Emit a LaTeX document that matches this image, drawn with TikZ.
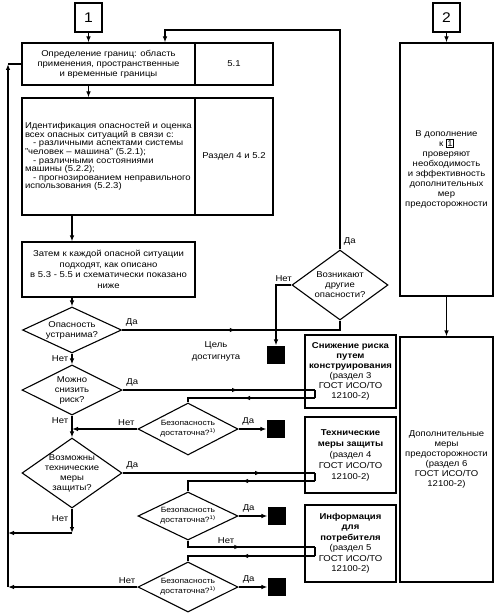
\documentclass[tikz,border=0pt]{standalone}
\usepackage{fontspec}
\setmainfont{Liberation Sans}[FakeStretch=1.12]
\usetikzlibrary{shapes.geometric,decorations.markings,arrows.meta}
\newcommand{\refbox}[1]{{\setlength{\fboxsep}{0.8pt}\setlength{\fboxrule}{0.6pt}\fbox{#1}}}
\begin{document}
\begin{tikzpicture}[x=1pt,y=-1pt,>={Latex[length=6pt,width=4.5pt]},line width=1.1pt,font=\fontsize{8.5}{10}\selectfont,
  marrow/.style={decoration={markings,mark=at position #1 with {\arrow{>}}},postaction={decorate}}]
% boxes, decisions and end marks
\tikzstyle{box} = [rectangle, draw=black, inner sep=2pt, align=center]
\tikzstyle{start} = [rectangle, draw=black, minimum width=27pt, minimum height=29pt, font=\fontsize{14}{14}\selectfont]
\tikzstyle{decision} = [diamond, draw=black, inner sep=0pt]
\tikzstyle{stopbox} = [rectangle, fill=black, minimum size=18pt, inner sep=0pt]
\useasboundingbox (0,0) rectangle (499,615);
\node (n1) [start] at (88.5,17.5) {1};
\node (lim) [box, minimum width=173pt, minimum height=42pt] at (108.5,64) {Определение границ: область\\применения, пространственные\\и временные границы};
\node (lim51) [box, minimum width=78pt, minimum height=42pt] at (234,64) {5.1};
\node (ident) [box, minimum width=173pt, minimum height=117pt, text width=167pt, align=left, font=\fontsize{8.5}{8.6}\selectfont] at (108.5,156.5) {Идентификация опасностей и оценка\\
всех опасных ситуаций в связи с:\\
\hspace*{8pt}- различными аспектами системы\\
"человек – машина" (5.2.1);\\
\hspace*{8pt}- различными состояниями\\
машины (5.2.2);\\
\hspace*{8pt}- прогнозированием неправильного\\
использования (5.2.3)};
\node (ident52) [box, minimum width=78pt, minimum height=117pt] at (234,156.5) {Раздел 4 и 5.2};
\node (appr) [box, minimum width=173pt, minimum height=55pt, font=\fontsize{8.5}{10.5}\selectfont] at (108.5,269.5) {Затем к каждой опасной ситуации\\подходят, как описано\\в 5.3 - 5.5 и схематически показано\\ниже};
\node (d1) [decision, minimum width=99pt, minimum height=46pt, label={[align=center]center:{Опасность\\устранима?}}] at (72,330) {};
\node (d2) [decision, minimum width=100pt, minimum height=50pt, label={[align=center]center:{Можно\\снизить\\риск?}}] at (72,390) {};
\node (d4) [decision, minimum width=100pt, minimum height=70pt, label={[align=center]center:{Возможны\\технические\\меры\\защиты?}}] at (72,473) {};
\node (s1) [decision, minimum width=100pt, minimum height=52pt, label={[align=center,font=\fontsize{7.6}{9.8}\selectfont]center:{Безопасность\\достаточна?\textsuperscript{1)}}}] at (188,429) {};
\node (s2) [decision, minimum width=100pt, minimum height=48pt, label={[align=center,font=\fontsize{7.6}{9.8}\selectfont]center:{Безопасность\\достаточна?\textsuperscript{1)}}}] at (188,516) {};
\node (s3) [decision, minimum width=100pt, minimum height=50pt, label={[align=center,font=\fontsize{7.6}{9.8}\selectfont]center:{Безопасность\\достаточна?\textsuperscript{1)}}}] at (188,587) {};
\node (other) [decision, minimum width=96pt, minimum height=70pt, label={[align=center]center:{Возникают\\другие\\опасности?}}] at (340,285) {};
\node (goal) [align=center, font=\fontsize{8.5}{12}\selectfont] at (216,351) {Цель\\достигнута};
\node (g1) [stopbox] at (276,355) {};
\node (g2) [stopbox] at (276,429) {};
\node (g3) [stopbox] at (277,516) {};
\node (g4) [stopbox] at (277,587) {};
\node (red1) [box, minimum width=91pt, minimum height=73pt] at (350.5,371.5) {\textbf{Снижение риска}\\\textbf{путем}\\\textbf{конструирования}\\(раздел 3\\ГОСТ ИСО/ТО\\12100-2)};
\node (red2) [box, minimum width=91pt, minimum height=76pt, font=\fontsize{8.5}{11}\selectfont] at (350.5,455) {\textbf{Технические}\\\textbf{меры защиты}\\(раздел 4\\ГОСТ ИСО/ТО\\12100-2)};
\node (red3) [box, minimum width=91pt, minimum height=77pt, font=\fontsize{8.5}{10.5}\selectfont] at (350.5,543.5) {\textbf{Информация}\\\textbf{для}\\\textbf{потребителя}\\(раздел 5\\ГОСТ ИСО/ТО\\12100-2)};
\node (n2) [start] at (446.5,17.5) {2};
\node (add1) [box, minimum width=93pt, minimum height=253pt] at (446.5,169.5) {В дополнение\\к \refbox{1}\\проверяют\\необходимость\\и эффективность\\дополнительных\\мер\\предосторожности};
\node (add2) [box, minimum width=93pt, minimum height=245pt] at (446.5,459.5) {Дополнительные\\меры\\предосторожности\\(раздел 6\\ГОСТ ИСО/ТО\\12100-2)};
% turning points
\coordinate (top) at (165,30);
\coordinate (rail) at (8,587);
\coordinate (c4) at (72,533);
\coordinate (in1) at (315,390); \coordinate (out1) at (315,398);
\coordinate (in2) at (315,473); \coordinate (out2) at (315,481);
\coordinate (in3) at (315,547); \coordinate (out3) at (315,556);
% main line
\draw [->] (n1.south) -- (n1.south |- lim.north);
\draw [->] (lim.south -| n1) -- (ident.north -| n1);
\draw [->] (ident.south -| d1) -- (appr.north -| d1);
\draw [->] (appr.south -| d1) -- (d1.north);
\draw [->] (d1.south) -- (d2.north) node[pos=0.5,left] {Нет};
\draw [->] (d2.south) -- (d4.north) node[pos=0.25,left] {Нет};
\draw [->] (d4.south) -- (c4) node[pos=0.42,left] {Нет};
\draw [->] (c4) -- (c4 -| rail);
\draw [->] (rail) -- (rail |- lim.west);
\draw (rail |- lim.west) -- (lim.west);
% hazard eliminated
\draw [marrow=0.5] (d1.east) -| (other.south) node[pos=0,above right] {Да};
\draw [->] (other.west) -| (g1.north) node[pos=0.25,above] {Нет};
\draw [->] (other.north) node[above right] {Да} |- (top) -- (top |- lim.north);
% risk reduction loops
\draw [marrow=0.6] (d2.east) -- (in1) node[pos=0,above right] {Да};
\draw (in1) -- (out1);
\draw [marrow=0.54] (out1) -| (s1.north);
\draw [->] (s1.east) -- (g2.west) node[pos=0.35,above] {Да};
\draw [->] (s1.west) -- (s1.west -| d1) node[pos=0.17,above] {Нет};
\draw [marrow=0.72] (d4.east) -- (in2) node[pos=0,above right] {Да};
\draw (in2) -- (out2);
\draw [marrow=0.53] (out2) -| (s2.north);
\draw [->] (s2.east) -- (g3.west) node[pos=0.35,above] {Да};
\draw [marrow=0.44] (s2.south) |- (in3) node[pos=0.65,above] {Нет};
\draw (in3) -- (out3);
\draw [marrow=0.55] (out3) -| (s3.north);
\draw [->] (s3.east) -- (g4.west) node[pos=0.35,above] {Да};
\draw [->] (s3.west) -- (rail) node[pos=0.08,above] {Нет};
% column 2
\draw [->] (n2.south) -- (add1.north);
\draw [->] (add1.south) -- (add2.north);
\end{tikzpicture}
\end{document}
